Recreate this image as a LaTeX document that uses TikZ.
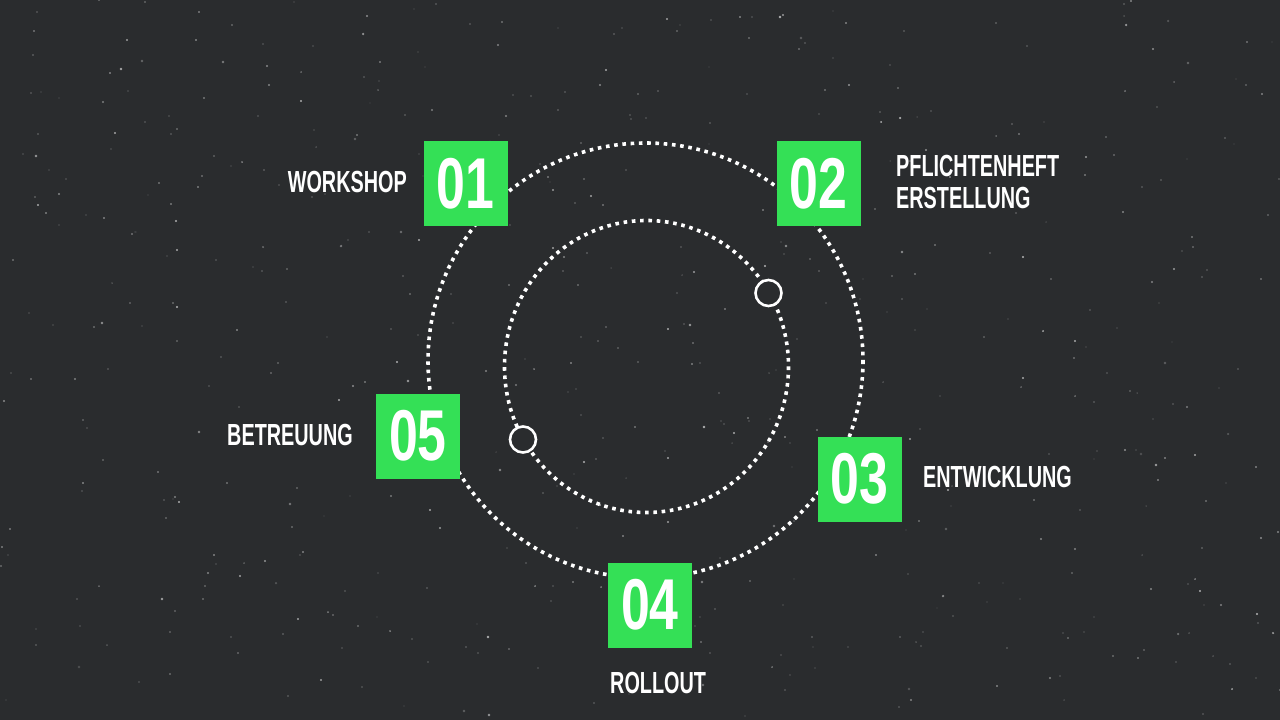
\documentclass[tikz,border=0pt]{standalone}
\usepackage{fontspec}
\setmainfont{Liberation Sans}
\newfontfamily\digitfont{Liberation Sans}[FakeStretch=0.72]
\newfontfamily\labelfont{Liberation Sans}[FakeStretch=0.65]
\definecolor{bg}{RGB}{42,44,46}
\definecolor{stepgreen}{RGB}{52,224,86}
\begin{document}
\begin{tikzpicture}[x=1pt,y=-1pt,
  numbox/.style={fill=stepgreen, draw=none, minimum width=84pt, minimum height=85pt, inner sep=0pt,
    text=white, font=\digitfont\bfseries\fontsize{72}{72}\selectfont},
  steplabel/.style={text=white, inner sep=0pt, font=\labelfont\bfseries\fontsize{30.5}{32}\selectfont},
  dotring/.style={draw=white, line width=3.6pt},
  marker/.style={circle, draw=white, fill=bg, line width=2.6pt, minimum size=26pt, inner sep=0pt}
]
\useasboundingbox (0,0) rectangle (1280,720);
\fill[bg] (0,0) rectangle (1280,720);
% stars
\pgfmathsetseed{4242}
\foreach \i in {1,...,560}{
  \pgfmathsetmacro\sx{random(0,1280)}
  \pgfmathsetmacro\sy{random(0,720)}
  \pgfmathsetmacro\so{0.15+0.5*rnd}
  \pgfmathsetmacro\sr{0.5+0.8*rnd}
  \fill[white, opacity=\so] (\sx,\sy) circle[radius=\sr];
}
% dotted orbits
\draw[dotring, dash pattern=on 3.6pt off 4.68pt] (645.5,360.5) circle[radius=217.5];
\draw[dotring, dash pattern=on 3.6pt off 4.7pt] (646.5,366.5) ellipse[x radius=142, y radius=146];
% markers on inner orbit
\node[marker] (r1) at (768.5,293) {};
\node[marker] (r2) at (523,439.5) {};
% numbered boxes
\node[numbox] (b1) at (465.5,183.5) {01};
\node[numbox] (b2) at (818.5,183.5) {02};
\node[numbox] (b3) at (859.5,479) {03};
\node[numbox] (b4) at (650,605) {04};
\node[numbox] (b5) at (418,436) {05};
% labels
\node[steplabel, anchor=east] (l1) at (407,182) {WORKSHOP};
\node[steplabel, anchor=west, align=left] (l2) at (896,182) {PFLICHTENHEFT\\ERSTELLUNG};
\node[steplabel, anchor=west] (l3) at (923,477) {ENTWICKLUNG};
\node[steplabel, anchor=north west] (l4) at (610,672) {ROLLOUT};
\node[steplabel, anchor=east] (l5) at (353,435) {BETREUUNG};
\end{tikzpicture}
\end{document}
